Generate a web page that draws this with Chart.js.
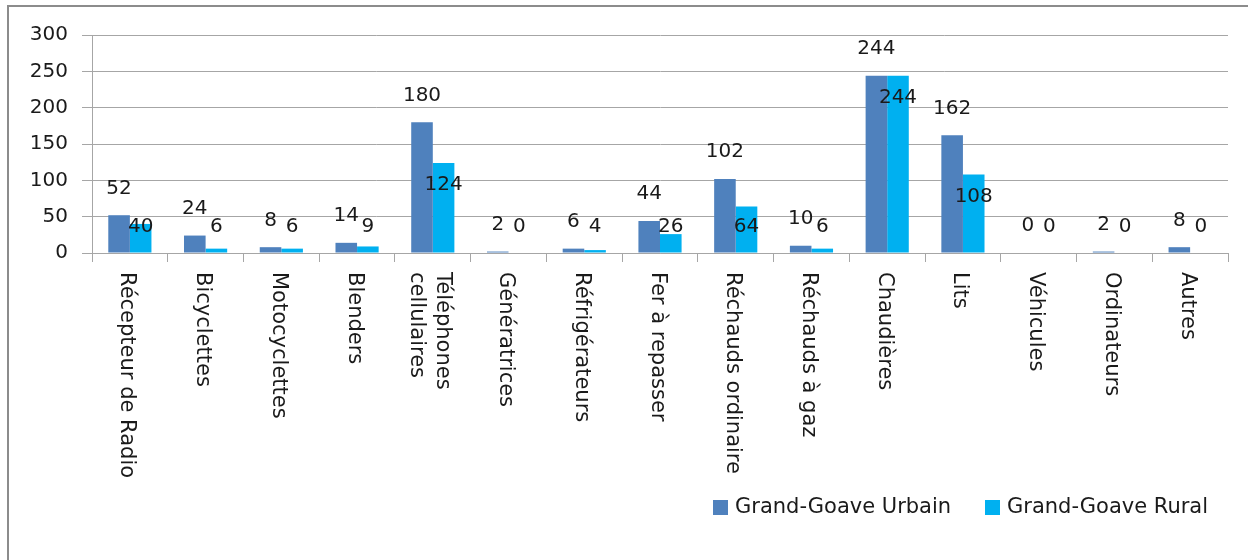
<!DOCTYPE html>
<html>
<head>
<meta charset="utf-8">
<script src="https://cdn.jsdelivr.net/npm/chart.js@4"></script>
<style>
	html, body { margin: 0; padding: 0; background: #fff; }
	#wrap { width: 1248px; height: 560px; position: relative; }
</style>
</head>
<body>
<div id="wrap"><canvas id="equipChart" width="1248" height="560"></canvas></div>
<script>
const categories = [
	['Récepteur de Radio'], ['Bicyclettes'], ['Motocyclettes'], ['Blenders'],
	['Téléphones', 'cellulaires'], ['Génératrices'], ['Réfrigérateurs'], ['Fer à repasser'],
	['Réchauds ordinaire'], ['Réchauds à gaz'], ['Chaudières'], ['Lits'],
	['Véhicules'], ['Ordinateurs'], ['Autres']
];
const urbain = [52, 24, 8, 14, 180, 2, 6, 44, 102, 10, 244, 162, 0, 2, 8];
const rural = [40, 6, 6, 9, 124, 0, 4, 26, 64, 6, 244, 108, 0, 0, 0];
const seriesNames = ['Grand-Goave Urbain', 'Grand-Goave Rural'];
const yTicks = [0, 50, 100, 150, 200, 250, 300];

const FONT = '"DejaVu Sans", sans-serif';
const TEXT = '#1a1a1a';
const GRID = '#a6a6a6';
const colors = ['#4F81BD', '#00B0F0'];

// Excel-ish label placement: urban above the bar, rural dropped into/near the bar
function labelValue(ds, v) {
	if (ds === 0) return v + 37;
	return Math.max(v - 30, 36);
}

const decorations = {
	id: 'decorations',
	beforeDraw(chart) {
		const c = chart.ctx;
		c.save();
		c.strokeStyle = '#8c8c8c';
		c.lineWidth = 2;
		c.beginPath();
		c.moveTo(8, 560);
		c.lineTo(8, 6);
		c.lineTo(1248, 6);
		c.stroke();
		c.restore();
	},
	afterDraw(chart) {
		const c = chart.ctx;
		const xs = chart.scales.x;
		const ys = chart.scales.y;
		c.save();
		c.fillStyle = TEXT;
		c.font = '20px ' + FONT;

		// value labels
		c.textAlign = 'center';
		c.textBaseline = 'middle';
		chart.data.datasets.forEach((ds, di) => {
			chart.getDatasetMeta(di).data.forEach((bar, i) => {
				const v = ds.data[i];
				c.fillText(String(v), bar.x, ys.getPixelForValue(labelValue(di, v)));
			});
		});

		// category labels, rotated clockwise
		c.font = '21px ' + FONT;
		c.textAlign = 'left';
		const lh = 26;
		categories.forEach((lines, i) => {
			const x = xs.getPixelForTick(i);
			c.save();
			c.translate(x - 3, xs.top + 19);
			c.rotate(Math.PI / 2);
			lines.forEach((t, k) => {
				c.fillText(t, 0, -((lines.length - 1) / 2 - k) * lh);
			});
			c.restore();
		});

		// legend
		c.font = '21px ' + FONT;
		c.textBaseline = 'middle';
		const legendX = [713, 985];
		seriesNames.forEach((name, i) => {
			c.fillStyle = colors[i];
			c.fillRect(legendX[i], 500, 15, 15);
			c.fillStyle = TEXT;
			c.fillText(name, legendX[i] + 22, 508);
		});
		c.restore();
	}
};

const ctx = document.getElementById('equipChart').getContext('2d');
new Chart(ctx, {
	type: 'bar',
	data: {
		labels: categories,
		datasets: seriesNames.map((name, i) => ({
			label: name,
			data: i === 0 ? urbain : rural,
			backgroundColor: colors[i],
			borderWidth: 0,
			categoryPercentage: 0.57,
			barPercentage: 1
		}))
	},
	options: {
		responsive: false,
		animation: false,
		layout: { padding: { left: 0, right: 20, top: 35, bottom: 0 } },
		plugins: { legend: { display: false }, tooltip: { enabled: false } },
		scales: {
			x: {
				ticks: { display: false },
				grid: { offset: true, drawOnChartArea: false, drawTicks: true, tickLength: 9, color: GRID },
				border: { color: GRID, width: 1 },
				afterFit(scale) { scale.height = 307; }
			},
			y: {
				min: 0,
				max: 300,
				afterBuildTicks(scale) { scale.ticks = yTicks.map(v => ({ value: v })); },
				ticks: { color: TEXT, font: { family: FONT, size: 20 }, padding: 14 },
				grid: { color: GRID, tickLength: 10 },
				border: { color: GRID, width: 1 },
				afterFit(scale) { scale.width = 92; }
			}
		}
	},
	plugins: [decorations]
});
</script>
</body>
</html>
